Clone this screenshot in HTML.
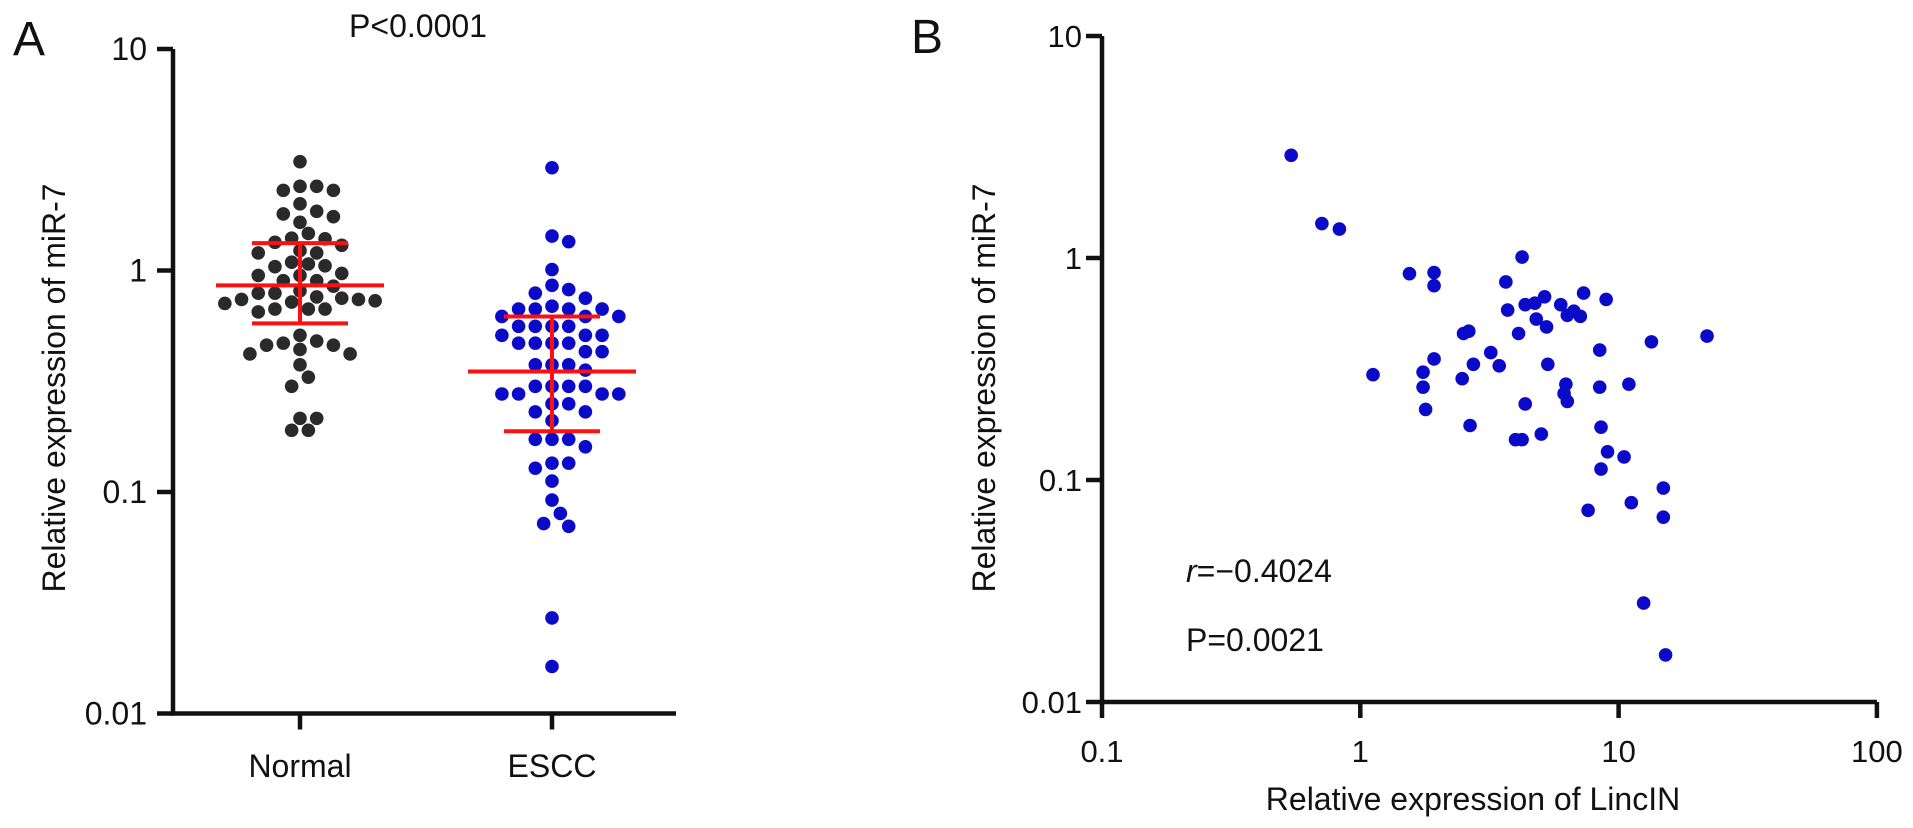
<!DOCTYPE html>
<html><head><meta charset="utf-8"><style>
html,body{margin:0;padding:0;background:#fff;}
svg{display:block;font-family:"Liberation Sans",Arial,sans-serif;}
</style></head><body>
<svg id="chart" width="1913" height="828" viewBox="0 0 1913 828">
<g id="panelA"></g>
<g id="panelB"></g>
</svg>
<script>
// ---------- Panel A data ----------
const groupsA = ["Normal", "ESCC"];
const normalValues = [3.1,2.4,2.3,2.3,2.4,2.0,1.8,1.85,1.65,1.75,1.47,1.34,1.3,1.39,1.4,1.2,1.2,1.23,1.09,1.04,1.05,1.07,0.97,0.95,0.95,0.9,0.9,0.85,0.81,0.79,0.79,0.75,0.74,0.71,0.72,0.74,0.76,0.73,0.67,0.67,0.65,0.67,0.51,0.48,0.46,0.46,0.47,0.44,0.42,0.42,0.375,0.33,0.30,0.215,0.215,0.19,0.19];
const esccValues = [2.91,1.43,1.35,1.01,0.857,0.82,0.79,0.75,0.69,0.67,0.67,0.67,0.67,0.62,0.62,0.62,0.56,0.56,0.56,0.56,0.51,0.51,0.51,0.47,0.47,0.47,0.47,0.43,0.43,0.375,0.375,0.375,0.355,0.30,0.30,0.30,0.30,0.277,0.277,0.277,0.277,0.25,0.25,0.23,0.23,0.21,0.173,0.173,0.173,0.16,0.135,0.135,0.128,0.112,0.092,0.08,0.072,0.07,0.027,0.0163];
const meanA = [0.857, 0.35];
const upperA = [1.33, 0.62];
const lowerA = [0.577, 0.188];
const yTicksA = [10, 1, 0.1, 0.01];
const yTickLabelsA = ["10", "1", "0.1", "0.01"];

// ---------- Panel B data ----------
const lincValues = [0.54,0.71,0.83,1.55,1.93,1.93,3.66,4.23,1.12,1.75,1.75,1.79,1.93,2.51,2.63,2.48,2.74,2.66,3.20,3.45,3.72,4.10,4.35,4.74,5.17,4.80,5.26,5.32,5.97,6.33,6.71,7.11,7.32,8.95,8.45,6.25,6.15,6.33,4.35,5.02,3.99,4.23,8.45,10.96,8.55,9.06,10.5,8.55,13.4,22.0,11.2,7.62,14.9,14.9,12.5,15.2];
const mirValues = [2.90,1.43,1.35,0.85,0.86,0.75,0.78,1.01,0.298,0.306,0.262,0.208,0.351,0.457,0.468,0.286,0.332,0.176,0.375,0.327,0.583,0.457,0.616,0.626,0.669,0.531,0.489,0.332,0.616,0.552,0.576,0.546,0.695,0.651,0.385,0.270,0.245,0.226,0.220,0.161,0.152,0.152,0.262,0.270,0.173,0.134,0.127,0.112,0.419,0.445,0.079,0.073,0.092,0.068,0.0279,0.0163];
const xTicksB = [0.1, 1, 10, 100];
const xTickLabelsB = ["0.1", "1", "10", "100"];
const yTicksB = [10, 1, 0.1, 0.01];
const yTickLabelsB = ["10", "1", "0.1", "0.01"];

const NS = "http://www.w3.org/2000/svg";
function mk(parent, tag, attrs, text) {
  const e = document.createElementNS(NS, tag);
  for (const k in attrs) e.setAttribute(k, attrs[k]);
  if (text !== undefined) e.textContent = text;
  parent.appendChild(e);
  return e;
}

// ---------- Panel A ----------
const A = document.getElementById("panelA");
const axA = {x0: 173, y10: 49, dec: 221.5, right: 676};
function yA(v) { return axA.y10 + (1 - Math.log10(v)) * axA.dec; }
const xCenters = [300, 552];
function xA(i) { return xCenters[i]; }
const yBottomA = yA(0.01);

let t;
t = mk(A, "text", {x: 13, y: 55, "font-size": 48, fill: "#111"}, "A");


t = mk(A, "text", {x: 418, y: 37, "font-size": 32, "text-anchor": "middle", fill: "#111"}, "P<0.0001");



let ln = mk(A, "path", {d: `M${axA.x0} ${axA.y10} V${yBottomA} H${axA.right}`, stroke: "#111", "stroke-width": 4.5, fill: "none"});


yTicksA.forEach((v, i) => {
  const y = yA(v);
  const tk = mk(A, "line", {x1: axA.x0 - 16, x2: axA.x0, y1: y, y2: y, stroke: "#111", "stroke-width": 4.5});
  
  
  const lb = mk(A, "text", {x: axA.x0 - 26, y: y + 11, "font-size": 32, "text-anchor": "end", fill: "#111"}, yTickLabelsA[i]);
  
  
});
groupsA.forEach((g, i) => {
  const x = xA(i);
  const tk = mk(A, "line", {x1: x, x2: x, y1: yBottomA, y2: yBottomA + 16, stroke: "#111", "stroke-width": 4.5});
  
  
  const lb = mk(A, "text", {x: x, y: 777, "font-size": 32, "text-anchor": "middle", fill: "#111"}, g);
  
  
});
t = mk(A, "text", {x: 0, y: 0, "font-size": 32, "text-anchor": "middle", fill: "#111", transform: "translate(65,388) rotate(-90)"}, "Relative expression of miR-7");



function swarm(values, cx) {
  const placed = [];
  const step = 8.35, minD = 13.8;
  const sorted = values.map((v, i) => ({v, i})).sort((a, b) => b.v - a.v);
  sorted.forEach(p => {
    const y = yA(p.v);
    for (let k = 0; k < 60; k++) {
      const cands = k === 0 ? [0] : [k, -k];
      let ok = null;
      for (const c of cands) {
        const x = cx + c * step;
        if (placed.every(q => Math.hypot(q.x - x, q.y - y) >= minD)) { ok = x; break; }
      }
      if (ok !== null) { placed.push({x: ok, y}); break; }
    }
  });
  return placed;
}
const colorsA = ["#2a2a2a", "#0a0ac8"];
[normalValues, esccValues].forEach((vals, gi) => {
  const pts = swarm(vals, xA(gi));
  pts.forEach(p => {
    const c = mk(A, "circle", {cx: p.x, cy: p.y, r: 6.8, fill: colorsA[gi]});
    
    
  });
});
groupsA.forEach((g, i) => {
  const x = xA(i);
  const red = "#ff1010";
  const vb = mk(A, "line", {x1: x, x2: x, y1: yA(upperA[i]), y2: yA(lowerA[i]), stroke: red, "stroke-width": 4});
  
  
  const m = mk(A, "line", {x1: x - 84, x2: x + 84, y1: yA(meanA[i]), y2: yA(meanA[i]), stroke: red, "stroke-width": 4});
  
  
  [upperA[i], lowerA[i]].forEach(v => {
    const cp = mk(A, "line", {x1: x - 48, x2: x + 48, y1: yA(v), y2: yA(v), stroke: red, "stroke-width": 4});
    
    
  });
});

// ---------- Panel B ----------
const B = document.getElementById("panelB");
const axB = {x0: 1102, xdec: 258.3, y10: 36, ydec: 222};
function xB(v) { return axB.x0 + (Math.log10(v) + 1) * axB.xdec; }
function yB(v) { return axB.y10 + (1 - Math.log10(v)) * axB.ydec; }
const yBottomB = yB(0.01), xRightB = xB(100);

t = mk(B, "text", {x: 911, y: 53, "font-size": 48, fill: "#111"}, "B");


ln = mk(B, "path", {d: `M${axB.x0} ${axB.y10} V${yBottomB} H${xRightB}`, stroke: "#111", "stroke-width": 4.5, fill: "none"});


yTicksB.forEach((v, i) => {
  const y = yB(v);
  const tk = mk(B, "line", {x1: axB.x0 - 16, x2: axB.x0, y1: y, y2: y, stroke: "#111", "stroke-width": 4.5});
  
  
  const lb = mk(B, "text", {x: axB.x0 - 20, y: y + 11, "font-size": 31, "text-anchor": "end", fill: "#111"}, yTickLabelsB[i]);
  
  
});
xTicksB.forEach((v, i) => {
  const x = xB(v);
  const tk = mk(B, "line", {x1: x, x2: x, y1: yBottomB, y2: yBottomB + 16, stroke: "#111", "stroke-width": 4.5});
  
  
  const lb = mk(B, "text", {x: x, y: 762, "font-size": 31, "text-anchor": "middle", fill: "#111"}, xTickLabelsB[i]);
  
  
});
t = mk(B, "text", {x: 0, y: 0, "font-size": 32, "text-anchor": "middle", fill: "#111", transform: "translate(995,388) rotate(-90)"}, "Relative expression of miR-7");


t = mk(B, "text", {x: 1473, y: 810, "font-size": 32, "text-anchor": "middle", fill: "#111"}, "Relative expression of LincIN");


t = mk(B, "text", {x: 1186, y: 582, "font-size": 32, fill: "#111"});


mk(t, "tspan", {"font-style": "italic"}, "r");
mk(t, "tspan", {}, "=\u22120.4024");
t = mk(B, "text", {x: 1186, y: 651, "font-size": 32, fill: "#111"}, "P=0.0021");


lincValues.forEach((lv, i) => {
  const c = mk(B, "circle", {cx: xB(lv), cy: yB(mirValues[i]), r: 6.8, fill: "#0a0ac8"});
  
  
});
</script>
</body></html>
